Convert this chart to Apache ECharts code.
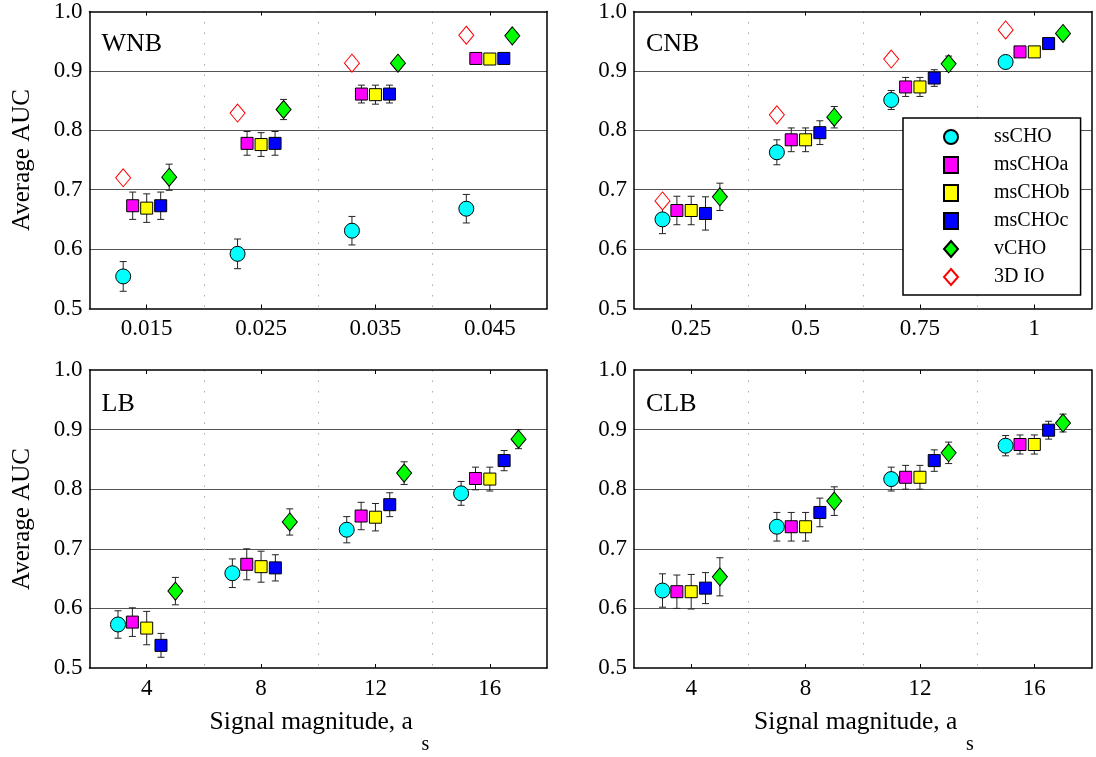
<!DOCTYPE html>
<html>
<head>
<meta charset="utf-8">
<script src="https://cdn.jsdelivr.net/npm/echarts@6/dist/echarts.min.js"></script>
<style>
  html, body { margin: 0; padding: 0; background: #fff; }
  #chart { width: 1096px; height: 757px; }
</style>
</head>
<body>
<div id="chart"></div>
<script>
// 方法名称（图例）
var methods = ['ssCHO', 'msCHOa', 'msCHOb', 'msCHOc', 'vCHO', '3D IO'];

// x 轴刻度（每个面板）
var wnbX = [0.015, 0.025, 0.035, 0.045];
var cnbX = [0.25, 0.5, 0.75, 1];
var lbX = [4, 8, 12, 16];
var clbX = [4, 8, 12, 16];

// 平均 AUC，行顺序同 methods
var wnbAuc = [
  [0.554, 0.592, 0.631, 0.668],
  [0.673, 0.778, 0.861, 0.921],
  [0.669, 0.776, 0.860, 0.920],
  [0.673, 0.778, 0.861, 0.921],
  [0.721, 0.835, 0.913, 0.959],
  [0.720, 0.829, 0.913, 0.960]
];
var wnbErr = [
  [0.025, 0.025, 0.024, 0.024],
  [0.023, 0.020, 0.015, 0.008],
  [0.024, 0.020, 0.016, 0.008],
  [0.023, 0.020, 0.015, 0.008],
  [0.022, 0.017, 0.008, 0.006]
];

var cnbAuc = [
  [0.650, 0.763, 0.851, 0.915],
  [0.665, 0.784, 0.873, 0.932],
  [0.665, 0.784, 0.873, 0.932],
  [0.660, 0.796, 0.888, 0.946],
  [0.688, 0.822, 0.912, 0.963],
  [0.681, 0.826, 0.920, 0.969]
];
var cnbErr = [
  [0.024, 0.021, 0.016, 0.006],
  [0.024, 0.020, 0.016, 0.006],
  [0.024, 0.020, 0.016, 0.006],
  [0.028, 0.020, 0.014, 0.005],
  [0.023, 0.018, 0.013, 0.005]
];

var lbAuc = [
  [0.573, 0.659, 0.732, 0.793],
  [0.577, 0.674, 0.755, 0.818],
  [0.567, 0.670, 0.753, 0.817],
  [0.538, 0.668, 0.774, 0.848],
  [0.629, 0.745, 0.827, 0.884]
];
var lbErr = [
  [0.023, 0.024, 0.022, 0.020],
  [0.024, 0.026, 0.023, 0.019],
  [0.028, 0.026, 0.023, 0.020],
  [0.020, 0.022, 0.020, 0.017],
  [0.023, 0.022, 0.019, 0.016]
];

var clbAuc = [
  [0.630, 0.737, 0.817, 0.873],
  [0.628, 0.737, 0.820, 0.875],
  [0.628, 0.737, 0.820, 0.875],
  [0.634, 0.761, 0.848, 0.899],
  [0.653, 0.780, 0.861, 0.911]
];
var clbErr = [
  [0.028, 0.024, 0.020, 0.017],
  [0.028, 0.024, 0.020, 0.016],
  [0.029, 0.024, 0.020, 0.016],
  [0.026, 0.024, 0.018, 0.015],
  [0.032, 0.024, 0.018, 0.015]
];

var FONT = 'Liberation Serif';

// 标记样式
var styles = [
  { symbol: 'circle', size: 15, color: '#00ffff', border: '#000' },
  { symbol: 'rect', size: 12, color: '#ff00ff', border: '#000' },
  { symbol: 'rect', size: 12, color: '#ffff00', border: '#000' },
  { symbol: 'rect', size: 12, color: '#0000ff', border: '#000' },
  { symbol: 'diamond', size: [15, 18], color: '#00ff00', border: '#000' },
  { symbol: 'diamond', size: [15, 18], color: '#ffffff', border: '#ff0000' }
];

// 每组内横向错开（像素）
var offsetsWnb = [-23.5, -14, 0, 14, 22.5, -23.5];
var offsetsStd = [-28.7, -14.3, 0, 14.3, 28.7, -28.7];

var panels = [
  { name: 'WNB', x: wnbX, auc: wnbAuc, err: wnbErr, min: 0.01, max: 0.05, interval: 0.01,
    off: offsetsWnb, grid: { left: 89.5, top: 10.5, width: 457.5, height: 298 }, yName: true, xName: false },
  { name: 'CNB', x: cnbX, auc: cnbAuc, err: cnbErr, min: 0.125, max: 1.125, interval: 0.25,
    off: offsetsStd, grid: { left: 634, top: 10.5, width: 457.5, height: 298 }, yName: false, xName: false },
  { name: 'LB', x: lbX, auc: lbAuc, err: lbErr, min: 2, max: 18, interval: 4,
    off: offsetsStd, grid: { left: 89.5, top: 370, width: 457.5, height: 298 }, yName: true, xName: true },
  { name: 'CLB', x: clbX, auc: clbAuc, err: clbErr, min: 2, max: 18, interval: 4,
    off: offsetsStd, grid: { left: 634, top: 370, width: 457.5, height: 298 }, yName: false, xName: true }
];

var grid = [], xAxis = [], yAxis = [], title = [], series = [], graphic = [];

panels.forEach(function (p, i) {
  grid.push(p.grid);
  title.push({
    text: p.name,
    left: p.grid.left + 12,
    top: p.grid.top + 21,
    padding: 0,
    textStyle: { fontFamily: FONT, fontSize: 26, fontWeight: 'normal', color: '#000', lineHeight: 26 }
  });

  // 下标 s
  if (p.xName) {
    graphic.push({
      type: 'text',
      left: p.grid.left + 332,
      top: 735,
      style: { text: 's', font: '20px "Liberation Serif"', fill: '#000' }
    });
  }

  // 下方 x 轴（带数据、刻度标签）
  xAxis.push({
    type: 'value', gridIndex: i, position: 'bottom',
    min: p.min, max: p.max, interval: p.interval,
    name: p.xName ? 'Signal magnitude, a' : '',
    nameLocation: 'middle', nameGap: 41,
    nameTextStyle: { fontFamily: FONT, fontSize: 25.5, color: '#000', padding: [0, 14, 0, 0] },
    axisLine: { show: true, onZero: false, lineStyle: { color: '#000', width: 1.5 } },
    axisTick: { show: true, inside: true, length: 4, customValues: p.x, lineStyle: { color: '#000' } },
    axisLabel: { customValues: p.x, margin: 9, fontFamily: FONT, fontSize: 23, color: '#000' },
    splitLine: { show: false }
  });
  // 上方 x 轴（只画刻度）
  xAxis.push({
    type: 'value', gridIndex: i, position: 'top',
    min: p.min, max: p.max, interval: p.interval,
    axisLine: { show: true, onZero: false, lineStyle: { color: '#000', width: 1.5 } },
    axisTick: { show: true, inside: true, length: 4, customValues: p.x, lineStyle: { color: '#000' } },
    axisLabel: { show: false },
    splitLine: { show: false }
  });
  // 组间虚线
  xAxis.push({
    type: 'value', gridIndex: i, position: 'bottom',
    min: p.min, max: p.max, interval: p.interval,
    axisLine: { show: false },
    axisTick: { show: false },
    axisLabel: { show: false },
    splitLine: { show: true, showMinLine: false, showMaxLine: false,
      lineStyle: { color: '#aaa', width: 1, type: [1.5, 9] } }
  });

  yAxis.push({
    type: 'value', gridIndex: i, position: 'left',
    min: 0.5, max: 1.0, interval: 0.1,
    name: p.yName ? 'Average AUC' : '',
    nameLocation: 'middle', nameGap: 55, nameRotate: 90,
    nameTextStyle: { fontFamily: FONT, fontSize: 25, color: '#000' },
    axisLine: { show: true, onZero: false, lineStyle: { color: '#000', width: 1.5 } },
    axisTick: { show: false },
    axisLabel: {
      margin: 7, fontFamily: FONT, fontSize: 23, color: '#000',
      formatter: function (v) { return v.toFixed(1); }
    },
    splitLine: { show: true, showMinLine: false, showMaxLine: false, lineStyle: { color: '#555', width: 1 } }
  });
  yAxis.push({
    type: 'value', gridIndex: i, position: 'right',
    min: 0.5, max: 1.0, interval: 0.1,
    axisLine: { show: true, onZero: false, lineStyle: { color: '#000', width: 1.5 } },
    axisTick: { show: false },
    axisLabel: { show: false },
    splitLine: { show: false }
  });

  p.auc.forEach(function (row, m) {
    var st = styles[m];
    var dx = p.off[m];
    var errRow = p.err[m];

    // 误差线
    if (errRow) {
      series.push({
        type: 'custom',
        xAxisIndex: 3 * i, yAxisIndex: 2 * i,
        z: 1,
        silent: true,
        encode: { x: 0, y: 1 },
        data: p.x.map(function (xv, k) { return [xv, row[k], errRow[k]]; }),
        renderItem: function (params, api) {
          var xv = api.value(0), yv = api.value(1), e = api.value(2);
          var hi = api.coord([xv, yv + e]);
          var lo = api.coord([xv, yv - e]);
          var cx = hi[0] + dx;
          var ls = { stroke: '#222', lineWidth: 1 };
          return {
            type: 'group',
            children: [
              { type: 'line', shape: { x1: cx, y1: hi[1], x2: cx, y2: lo[1] }, style: ls },
              { type: 'line', shape: { x1: cx - 3.5, y1: hi[1], x2: cx + 3.5, y2: hi[1] }, style: ls },
              { type: 'line', shape: { x1: cx - 3.5, y1: lo[1], x2: cx + 3.5, y2: lo[1] }, style: ls }
            ]
          };
        }
      });
    }

    // 数据点
    series.push({
      name: methods[m],
      type: 'scatter',
      xAxisIndex: 3 * i, yAxisIndex: 2 * i,
      z: 3,
      symbol: st.symbol,
      symbolSize: st.size,
      symbolOffset: [dx, 0],
      itemStyle: { color: st.color, borderColor: st.border, borderWidth: 1, opacity: 1 },
      emphasis: { disabled: true },
      data: p.x.map(function (xv, k) { return [xv, row[k]]; })
    });
  });
});

var chart = echarts.init(document.getElementById('chart'), null, { renderer: 'canvas' });
chart.setOption({
  animation: false,
  backgroundColor: '#fff',
  textStyle: { fontFamily: FONT },
  title: title,
  grid: grid,
  xAxis: xAxis,
  yAxis: yAxis,
  graphic: graphic,
  legend: {
    data: methods,
    orient: 'vertical',
    left: 903, top: 118,
    padding: [9, 11, 8, 40],
    itemWidth: 14, itemHeight: 16, itemGap: 8,
    backgroundColor: '#fff',
    borderColor: '#000', borderWidth: 1.5,
    selectedMode: false,
    z: 10,
    textStyle: { fontFamily: FONT, fontSize: 20, lineHeight: 20, color: '#000', padding: [0, 0, 0, 31] }
  },
  series: series
});
</script>
</body>
</html>
